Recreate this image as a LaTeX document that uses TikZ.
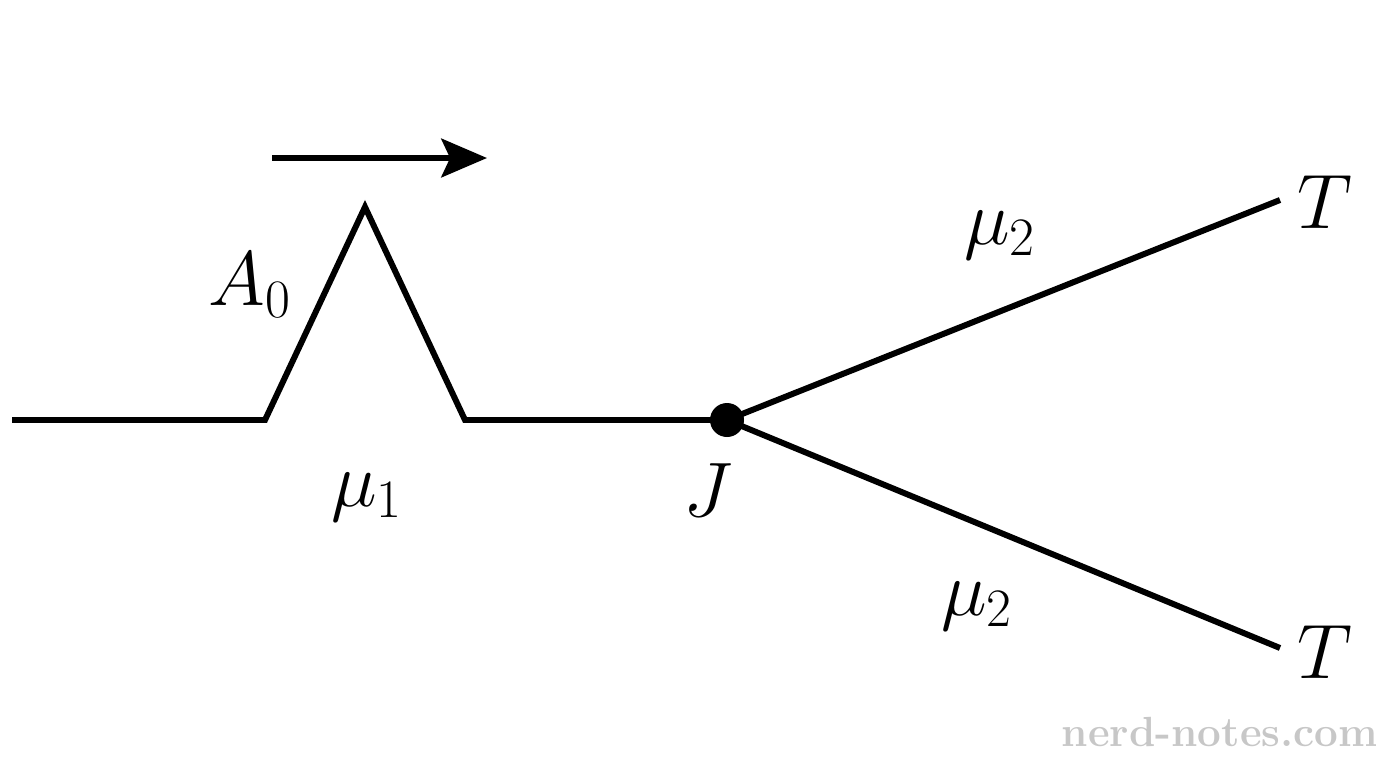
\RequirePackage{fix-cm}
\documentclass[tikz,border=0pt]{standalone}
\usetikzlibrary{arrows.meta}
\begin{document}
\begin{tikzpicture}[x=0.02cm,y=-0.02cm,
  wire/.style={line width=3.4pt},
  lab/.style={font=\fontsize{44}{50}\selectfont, inner sep=0pt}]
\useasboundingbox (0,0) rectangle (1376,768);
\coordinate (L) at (12,420);
\coordinate (P1) at (265,420);
\coordinate (Pk) at (365,207);
\coordinate (P2) at (465,420);
\coordinate (J) at (727,420);
\coordinate (U) at (1280,200);
\coordinate (D) at (1280,648);
\coordinate (a1) at (272,158);
\coordinate (a2) at (487,158);
\draw[wire, line join=miter] (L) -- (P1) -- (Pk) -- (P2) -- (J);
\draw[wire] (J) -- (U);
\draw[wire] (J) -- (D);
\fill (J) circle[radius=17];
\draw[wire, -{Stealth[length=26pt,width=22pt,inset=5pt]}] (a1) -- (a2);
\node[lab] (A0) at (250,285) {$A_0$};
\node[lab] (mu1) at (367,497) {$\mu_1$};
\node[lab] (Jl) at (708,490) {$J$};
\node[lab] (mu2a) at (1000,235) {$\mu_2$};
\node[lab] (mu2b) at (977,606) {$\mu_2$};
\node[lab] (T1) at (1325,202) {$T$};
\node[lab] (T2) at (1325,652) {$T$};
\node[font=\bfseries\fontsize{24}{28}\selectfont, text=black!22, inner sep=0pt] (wm) at (1220,732) {nerd-notes.com};
\end{tikzpicture}
\end{document}
